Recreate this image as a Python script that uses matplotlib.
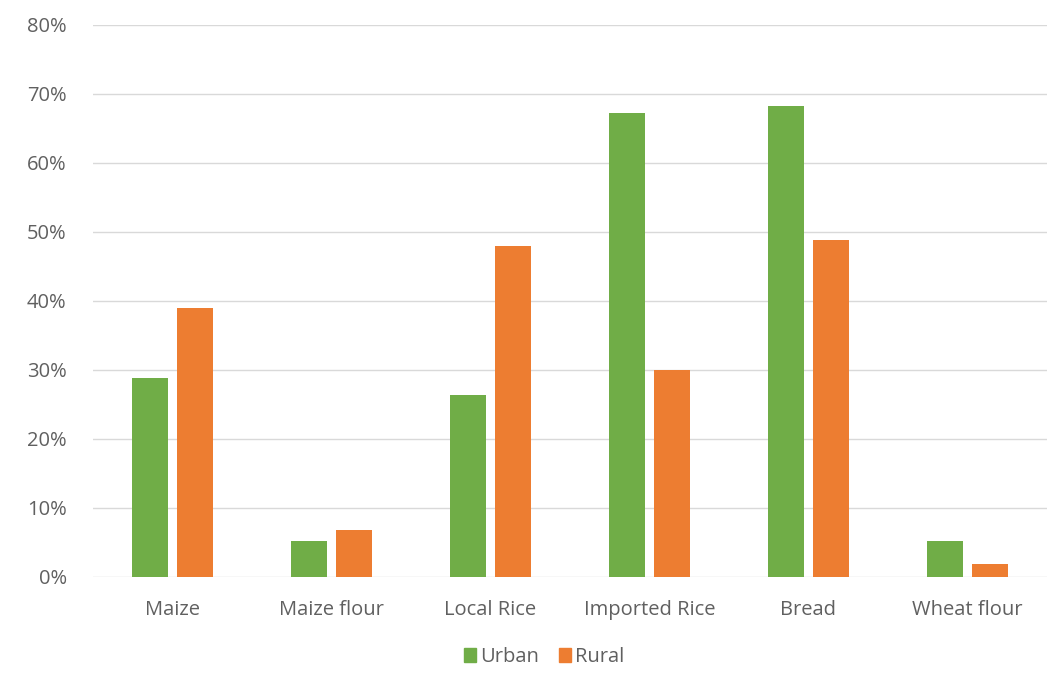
import matplotlib
matplotlib.use("Agg")
import matplotlib.pyplot as plt
import numpy as np
from matplotlib.ticker import PercentFormatter
from matplotlib.patches import Patch

categories = ["Maize", "Maize flour", "Local Rice", "Imported Rice", "Bread", "Wheat flour"]
urban = [28.8, 5.2, 26.3, 67.2, 68.2, 5.2]
rural = [39.0, 6.8, 47.9, 29.9, 48.8, 1.8]
series_names = ["Urban", "Rural"]

GREEN = "#70AD47"
ORANGE = "#ED7D31"
TEXT = "#606060"

plt.rcParams["font.family"] = ["Open Sans", "DejaVu Sans"]

fig = plt.figure(figsize=(10.57, 6.78), dpi=100)
ax = fig.add_axes([0.088, 0.1494, 0.9025, 0.8142])

x = np.arange(len(categories))
w = 0.226
off = 0.142
ax.bar(x - off, urban, w, color=GREEN, zorder=3)
ax.bar(x + off, rural, w, color=ORANGE, zorder=3)

ax.set_xlim(-0.5, len(categories) - 0.5)
ax.set_ylim(0, 80)
ax.set_yticks(range(0, 81, 10))
ax.yaxis.set_major_formatter(PercentFormatter(decimals=0))
ax.set_xticks(x)
ax.set_xticklabels(categories)
ax.tick_params(axis="both", length=0, labelsize=14.5, colors=TEXT)
ax.tick_params(axis="y", pad=19)
ax.tick_params(axis="x", pad=17)
ax.grid(axis="y", color="#D9D9D9", linewidth=1, zorder=0)
for s in ax.spines.values():
    s.set_visible(False)

handles = [Patch(color=GREEN), Patch(color=ORANGE)]
fig.legend(handles, series_names, loc="center", bbox_to_anchor=(0.515, 0.031),
           ncol=2, frameon=False, fontsize=14.5, labelcolor=TEXT,
           handlelength=0.6, handleheight=0.75, handletextpad=0.2, columnspacing=1.0)

fig.savefig("out.png", dpi=100, facecolor="white")
